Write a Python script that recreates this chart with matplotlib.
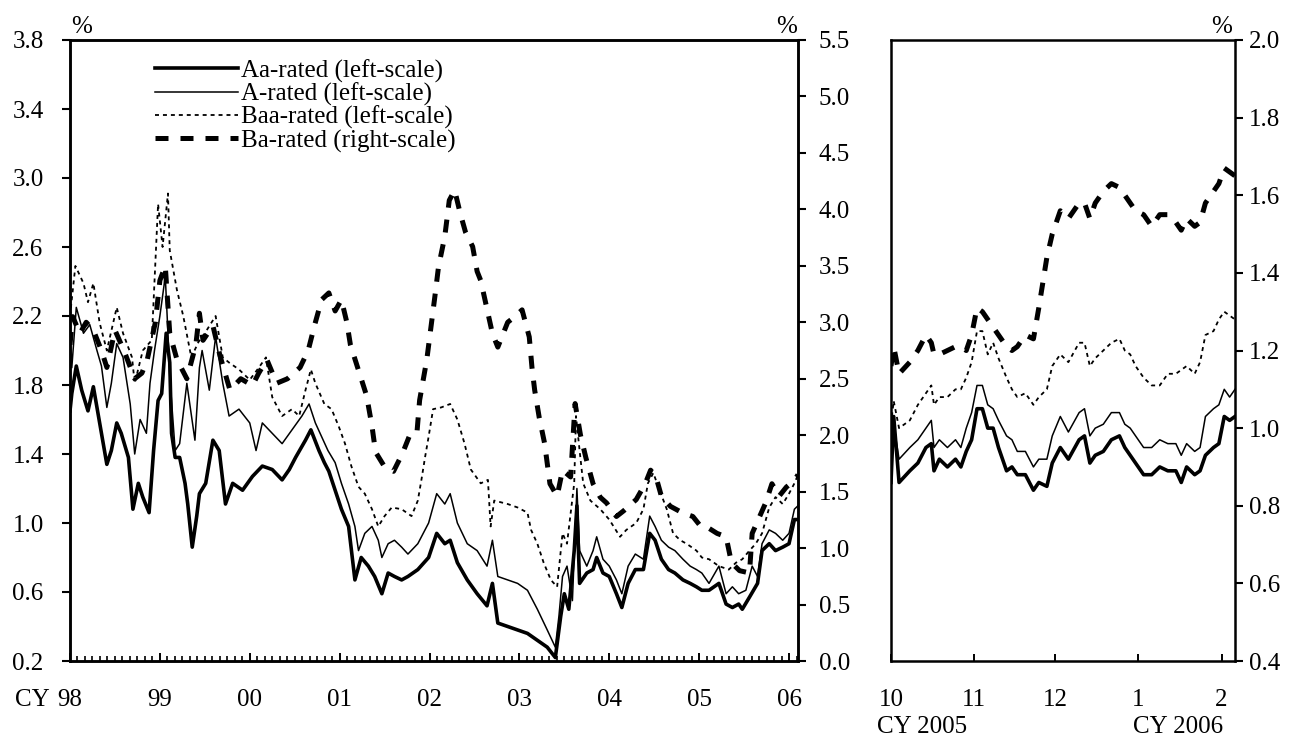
import matplotlib
matplotlib.use('Agg')
import matplotlib.pyplot as plt
from matplotlib.ticker import MultipleLocator, FormatStrFormatter

plt.rcParams['font.family'] = ['Liberation Serif', 'DejaVu Serif']
plt.rcParams['font.size'] = 18

# ---- long view: CY1998 - Feb 2006, x in decimal years ----
aa_t = [1998.00, 1998.02, 1998.07, 1998.13, 1998.20, 1998.26, 1998.31, 1998.37, 1998.41, 1998.46,
        1998.52, 1998.57, 1998.65, 1998.70, 1998.76, 1998.81, 1998.88, 1998.93, 1998.98, 1999.02,
        1999.07, 1999.11, 1999.13, 1999.17, 1999.22, 1999.28, 1999.31, 1999.36, 1999.41, 1999.44,
        1999.51, 1999.59, 1999.66, 1999.73, 1999.81, 1999.92, 2000.03, 2000.14, 2000.25, 2000.36,
        2000.44, 2000.51, 2000.62, 2000.68, 2000.77, 2000.83, 2000.88, 2000.95, 2001.02, 2001.10,
        2001.17, 2001.24, 2001.32, 2001.39, 2001.47, 2001.54, 2001.61, 2001.69, 2001.76, 2001.87,
        2001.99, 2002.08, 2002.17, 2002.23, 2002.31, 2002.42, 2002.53, 2002.64, 2002.70, 2002.76,
        2002.87, 2002.98, 2003.09, 2003.20, 2003.31, 2003.40, 2003.46, 2003.50, 2003.55, 2003.61,
        2003.64, 2003.67, 2003.75, 2003.82, 2003.86, 2003.93, 2004.00, 2004.08, 2004.14, 2004.21,
        2004.29, 2004.38, 2004.45, 2004.51, 2004.58, 2004.66, 2004.73, 2004.82, 2004.90, 2004.97,
        2005.03, 2005.11, 2005.22, 2005.30, 2005.37, 2005.44, 2005.48, 2005.56, 2005.65, 2005.70,
        2005.78, 2005.85, 2005.93, 2006.00, 2006.06, 2006.10]
aa_v = [1.65, 1.75, 1.91, 1.77, 1.65, 1.79, 1.64, 1.46, 1.34, 1.42,
        1.58, 1.52, 1.38, 1.08, 1.23, 1.15, 1.06, 1.42, 1.71, 1.75,
        2.10, 1.93, 1.52, 1.38, 1.38, 1.23, 1.11, 0.86, 1.04, 1.17,
        1.23, 1.48, 1.42, 1.11, 1.23, 1.19, 1.27, 1.33, 1.31, 1.25,
        1.31, 1.38, 1.48, 1.54, 1.42, 1.35, 1.30, 1.19, 1.08, 0.98,
        0.67, 0.80, 0.75, 0.69, 0.59, 0.71, 0.69, 0.67, 0.69, 0.73,
        0.80, 0.94, 0.88, 0.90, 0.77, 0.67, 0.59, 0.52, 0.65, 0.42,
        0.40, 0.38, 0.36, 0.32, 0.28, 0.22, 0.46, 0.59, 0.50, 0.84,
        1.10, 0.65, 0.71, 0.73, 0.80, 0.71, 0.69, 0.59, 0.51, 0.65,
        0.73, 0.73, 0.94, 0.90, 0.79, 0.73, 0.71, 0.67, 0.65, 0.63,
        0.61, 0.61, 0.65, 0.53, 0.51, 0.53, 0.50, 0.57, 0.65, 0.84,
        0.88, 0.84, 0.86, 0.88, 1.02, 1.02]

a_t = [1998.00, 1998.02, 1998.07, 1998.15, 1998.22, 1998.30, 1998.35, 1998.41, 1998.46, 1998.52,
       1998.59, 1998.67, 1998.72, 1998.78, 1998.85, 1998.89, 1998.94, 1999.00, 1999.06, 1999.09,
       1999.11, 1999.17, 1999.22, 1999.30, 1999.39, 1999.44, 1999.47, 1999.55, 1999.62, 1999.70,
       1999.77, 1999.88, 2000.00, 2000.07, 2000.14, 2000.25, 2000.36, 2000.47, 2000.58, 2000.66,
       2000.73, 2000.80, 2000.87, 2000.95, 2001.02, 2001.10, 2001.17, 2001.21, 2001.28, 2001.36,
       2001.43, 2001.47, 2001.54, 2001.61, 2001.69, 2001.76, 2001.87, 2001.99, 2002.08, 2002.17,
       2002.23, 2002.31, 2002.42, 2002.53, 2002.64, 2002.70, 2002.76, 2002.87, 2002.98, 2003.09,
       2003.20, 2003.31, 2003.40, 2003.44, 2003.48, 2003.53, 2003.59, 2003.64, 2003.67, 2003.75,
       2003.82, 2003.86, 2003.93, 2004.00, 2004.08, 2004.14, 2004.21, 2004.29, 2004.38, 2004.45,
       2004.51, 2004.58, 2004.66, 2004.73, 2004.82, 2004.90, 2004.97, 2005.03, 2005.11, 2005.22,
       2005.30, 2005.37, 2005.44, 2005.52, 2005.59, 2005.65, 2005.70, 2005.78, 2005.85, 2005.93,
       2006.00, 2006.06, 2006.10]
a_v = [2.08, 1.90, 2.25, 2.10, 2.15, 2.00, 1.91, 1.67, 1.81, 2.04,
       1.96, 1.69, 1.40, 1.60, 1.52, 1.81, 2.00, 2.20, 2.43, 2.10,
       1.85, 1.42, 1.46, 1.81, 1.48, 1.90, 2.00, 1.77, 2.08, 1.81,
       1.62, 1.66, 1.58, 1.42, 1.58, 1.52, 1.46, 1.54, 1.62, 1.69,
       1.58, 1.50, 1.42, 1.35, 1.23, 1.11, 0.98, 0.84, 0.94, 0.98,
       0.90, 0.80, 0.88, 0.90, 0.86, 0.82, 0.88, 1.00, 1.17, 1.11,
       1.17, 1.00, 0.88, 0.84, 0.75, 0.90, 0.69, 0.67, 0.65, 0.61,
       0.50, 0.38, 0.28, 0.46, 0.69, 0.75, 0.55, 1.20, 0.84, 0.75,
       0.84, 0.92, 0.79, 0.75, 0.67, 0.59, 0.75, 0.82, 0.79, 1.04,
       0.98, 0.90, 0.86, 0.84, 0.79, 0.75, 0.73, 0.71, 0.65, 0.75,
       0.59, 0.63, 0.59, 0.61, 0.75, 0.69, 0.88, 0.96, 0.94, 0.90,
       0.94, 1.08, 1.10]

baa_t = [1998.00, 1998.06, 1998.15, 1998.20, 1998.26, 1998.33, 1998.41, 1998.52, 1998.59, 1998.69,
         1998.72, 1998.81, 1998.91, 1998.98, 1999.03, 1999.09, 1999.11, 1999.19, 1999.26, 1999.35,
         1999.43, 1999.50, 1999.62, 1999.70, 1999.77, 1999.88, 2000.00, 2000.10, 2000.18, 2000.25,
         2000.36, 2000.47, 2000.55, 2000.62, 2000.68, 2000.73, 2000.83, 2000.91, 2000.99, 2001.06,
         2001.13, 2001.21, 2001.28, 2001.36, 2001.43, 2001.50, 2001.58, 2001.69, 2001.80, 2001.87,
         2001.91, 2001.95, 2001.99, 2002.04, 2002.13, 2002.23, 2002.31, 2002.39, 2002.46, 2002.57,
         2002.65, 2002.68, 2002.72, 2002.87, 2002.98, 2003.09, 2003.13, 2003.20, 2003.27, 2003.35,
         2003.42, 2003.48, 2003.53, 2003.61, 2003.63, 2003.67, 2003.71, 2003.79, 2003.90, 2004.00,
         2004.12, 2004.19, 2004.30, 2004.38, 2004.43, 2004.49, 2004.56, 2004.64, 2004.71, 2004.79,
         2004.86, 2004.97, 2005.03, 2005.11, 2005.22, 2005.33, 2005.41, 2005.48, 2005.56, 2005.63,
         2005.70, 2005.78, 2005.85, 2005.93, 2006.00, 2006.06, 2006.10]
baa_v = [2.20, 2.49, 2.39, 2.28, 2.39, 2.16, 2.00, 2.25, 2.10, 1.96,
         1.81, 2.00, 2.06, 2.85, 2.60, 2.91, 2.58, 2.35, 2.20, 1.96,
         2.05, 2.10, 2.20, 1.96, 1.93, 1.89, 1.83, 1.90, 1.96, 1.73,
         1.62, 1.66, 1.62, 1.77, 1.89, 1.81, 1.69, 1.66, 1.56, 1.46,
         1.33, 1.21, 1.17, 1.08, 0.98, 1.04, 1.09, 1.08, 1.04, 1.13,
         1.25, 1.38, 1.50, 1.66, 1.67, 1.69, 1.60, 1.46, 1.31, 1.23,
         1.25, 0.98, 1.13, 1.11, 1.09, 1.06, 0.96, 0.88, 0.77, 0.67,
         0.63, 0.94, 0.88, 1.23, 1.62, 1.42, 1.23, 1.13, 1.08, 1.02,
         0.92, 0.96, 1.00, 1.08, 1.23, 1.29, 1.19, 1.08, 0.94, 0.90,
         0.88, 0.84, 0.80, 0.79, 0.75, 0.73, 0.77, 0.79, 0.84, 0.88,
         0.94, 1.09, 1.15, 1.11, 1.17, 1.23, 1.28]

ba_t = [1998.00, 1998.03, 1998.11, 1998.18, 1998.26, 1998.35, 1998.41, 1998.50, 1998.60, 1998.72,
        1998.80, 1998.86, 1998.95, 1999.00, 1999.06, 1999.11, 1999.19, 1999.30, 1999.40, 1999.44,
        1999.48, 1999.59, 1999.67, 1999.78, 1999.90, 2000.03, 2000.10, 2000.19, 2000.30, 2000.42,
        2000.56, 2000.65, 2000.72, 2000.80, 2000.88, 2000.95, 2001.02, 2001.08, 2001.12, 2001.20,
        2001.30, 2001.36, 2001.40, 2001.50, 2001.60, 2001.70, 2001.78, 2001.86, 2001.89, 2001.97,
        2002.06, 2002.10, 2002.17, 2002.22, 2002.28, 2002.34, 2002.40, 2002.48, 2002.53, 2002.57,
        2002.70, 2002.76, 2002.87, 2002.95, 2003.03, 2003.11, 2003.14, 2003.17, 2003.22, 2003.28,
        2003.31, 2003.34, 2003.42, 2003.48, 2003.57, 2003.62, 2003.68, 2003.74, 2003.82, 2003.90,
        2003.97, 2004.08, 2004.16, 2004.30, 2004.40, 2004.46, 2004.52, 2004.58, 2004.68, 2004.82,
        2004.93, 2005.02, 2005.08, 2005.20, 2005.30, 2005.36, 2005.45, 2005.56, 2005.59, 2005.74,
        2005.81, 2005.89, 2005.97, 2006.06, 2006.10]
ba_v = [2.80, 3.05, 2.90, 3.00, 2.93, 2.75, 2.60, 2.93, 2.75, 2.50,
        2.55, 2.67, 3.00, 3.37, 3.50, 2.90, 2.67, 2.50, 2.80, 3.08,
        2.84, 2.97, 2.70, 2.40, 2.50, 2.44, 2.55, 2.67, 2.46, 2.50,
        2.60, 2.75, 2.97, 3.20, 3.26, 3.10, 3.20, 3.00, 2.80, 2.60,
        2.35, 2.08, 1.85, 1.72, 1.68, 1.84, 2.00, 2.02, 2.31, 2.67,
        3.23, 3.49, 3.76, 4.08, 4.17, 3.97, 3.80, 3.67, 3.45, 3.37,
        2.90, 2.78, 3.00, 3.05, 3.11, 2.87, 2.60, 2.40, 2.16, 1.93,
        1.75, 1.57, 1.46, 1.69, 1.63, 2.28, 2.00, 1.80, 1.57, 1.45,
        1.40, 1.28, 1.33, 1.43, 1.57, 1.69, 1.63, 1.46, 1.37, 1.31,
        1.28, 1.19, 1.19, 1.13, 1.10, 0.87, 0.80, 0.78, 1.13, 1.40,
        1.57, 1.46, 1.54, 1.60, 1.65]

# ---- close-up: Oct 2005 - Feb 2006, x in days from 1 Oct 2005 ----
day = [0, 1, 3, 7, 10, 13, 15, 16, 18, 21, 24, 26, 28, 30, 32, 34, 36, 38, 40, 43,
       45, 47, 50, 53, 55, 58, 60, 63, 66, 70, 72, 74, 76, 79, 82, 85, 87, 89, 91, 94,
       97, 100, 103, 106, 108, 110, 113, 115, 117, 120, 122, 124, 126, 128]
z_aa = [0.86, 1.03, 0.86, 0.89, 0.91, 0.95, 0.96, 0.89, 0.92, 0.90, 0.92, 0.90, 0.94, 0.97, 1.05, 1.05, 1.00, 1.00, 0.95, 0.89,
        0.90, 0.88, 0.88, 0.84, 0.86, 0.85, 0.91, 0.95, 0.92, 0.97, 0.98, 0.91, 0.93, 0.94, 0.97, 0.98, 0.95, 0.93, 0.91, 0.88,
        0.88, 0.90, 0.89, 0.89, 0.86, 0.90, 0.88, 0.89, 0.93, 0.95, 0.96, 1.03, 1.02, 1.03]
z_a = [0.95, 1.01, 0.92, 0.95, 0.97, 1.00, 1.02, 0.95, 0.97, 0.95, 0.97, 0.95, 1.00, 1.04, 1.11, 1.11, 1.06, 1.05, 1.02, 0.98,
       0.97, 0.94, 0.94, 0.90, 0.92, 0.92, 0.98, 1.03, 0.99, 1.04, 1.05, 0.98, 1.00, 1.01, 1.04, 1.04, 1.01, 1.00, 0.98, 0.95,
       0.95, 0.97, 0.96, 0.96, 0.93, 0.96, 0.94, 0.95, 1.03, 1.05, 1.06, 1.10, 1.08, 1.10]
z_baa = [1.01, 1.07, 1.00, 1.02, 1.06, 1.09, 1.11, 1.06, 1.08, 1.08, 1.10, 1.10, 1.13, 1.17, 1.25, 1.25, 1.19, 1.22, 1.18, 1.13,
         1.10, 1.08, 1.09, 1.06, 1.08, 1.10, 1.16, 1.19, 1.17, 1.22, 1.22, 1.16, 1.18, 1.20, 1.22, 1.23, 1.20, 1.19, 1.16, 1.13,
         1.11, 1.11, 1.14, 1.14, 1.15, 1.16, 1.14, 1.17, 1.24, 1.25, 1.28, 1.30, 1.29, 1.28]
z_ba = [1.16, 1.21, 1.14, 1.17, 1.20, 1.24, 1.22, 1.19, 1.19, 1.20, 1.21, 1.21, 1.20, 1.24, 1.31, 1.30, 1.28, 1.26, 1.24, 1.21,
        1.20, 1.21, 1.24, 1.23, 1.31, 1.44, 1.50, 1.56, 1.54, 1.58, 1.58, 1.54, 1.58, 1.61, 1.63, 1.62, 1.60, 1.58, 1.56, 1.55,
        1.52, 1.55, 1.55, 1.53, 1.51, 1.54, 1.52, 1.53, 1.58, 1.61, 1.63, 1.67, 1.66, 1.65]

years = list(range(1998, 2007))
year_labels = ['98', '99', '00', '01', '02', '03', '04', '05', '06']
left_ticks = [0.2, 0.6, 1.0, 1.4, 1.8, 2.2, 2.6, 3.0, 3.4, 3.8]
month_days = [0, 31, 61, 92, 123]
month_labels = ['10', '11', '12', '1', '2']

W, H = 1289, 742
fig = plt.figure(figsize=(W / 100, H / 100), dpi=100)
ax = fig.add_axes([70 / W, 1 - 661 / H, 728 / W, 621 / H])
ax2 = ax.twinx()
axr = fig.add_axes([891 / W, 1 - 661 / H, 344 / W, 621 / H])

l1, = ax.plot(aa_t, aa_v, color='black', lw=2.6, label='Aa-rated (left-scale)')
l2, = ax.plot(a_t, a_v, color='black', lw=1.1, label='A-rated (left-scale)')
l3, = ax.plot(baa_t, baa_v, color='black', lw=1.3, dashes=(2.2, 2.2), label='Baa-rated (left-scale)')
l4, = ax2.plot(ba_t, ba_v, color='black', lw=3.6, dashes=(2.6, 2.4), label='Ba-rated (right-scale)')

axr.plot(day, z_aa, color='black', lw=2.6)
axr.plot(day, z_a, color='black', lw=1.1)
axr.plot(day, z_baa, color='black', lw=1.3, dashes=(2.2, 2.2))
axr.plot(day, z_ba, color='black', lw=3.6, dashes=(2.6, 2.4))

# left panel axes
ax.set_xlim(1998, 2006.1)
ax.set_ylim(0.2, 3.8)
ax.set_yticks(left_ticks)
ax.yaxis.set_major_formatter(FormatStrFormatter('%.1f'))
ax.set_xticks(years)
ax.set_xticklabels(year_labels)
ax.xaxis.set_minor_locator(MultipleLocator(1 / 12))
ax.tick_params(axis='y', direction='out', length=6, width=1.5, pad=13)
ax.tick_params(axis='x', which='major', direction='in', length=6, width=1.4, pad=20)
ax.tick_params(axis='x', which='minor', direction='in', length=3.6, width=1.2)

ax2.set_ylim(0, 5.5)
ax2.yaxis.set_major_locator(MultipleLocator(0.5))
ax2.yaxis.set_major_formatter(FormatStrFormatter('%.1f'))
ax2.tick_params(axis='y', direction='out', length=6, width=1.5, pad=9)

# right panel axes
axr.set_xlim(0, 128)
axr.set_ylim(0.4, 2.0)
axr.set_xticks(month_days)
axr.set_xticklabels(month_labels)
axr.yaxis.tick_right()
axr.yaxis.set_major_locator(MultipleLocator(0.2))
axr.yaxis.set_major_formatter(FormatStrFormatter('%.1f'))
axr.tick_params(axis='y', direction='out', length=6, width=1.5, pad=4)
axr.tick_params(axis='x', direction='in', length=5, width=1.4, pad=20)

for a in (ax, ax2, axr):
    for s in a.spines.values():
        s.set_linewidth(1.8)

ax2.legend([l1, l2, l3, l4], [l.get_label() for l in (l1, l2, l3, l4)],
           loc='upper left', bbox_to_anchor=(0.117, 0.969), frameon=False,
           borderpad=0, borderaxespad=0, labelspacing=0,
           handlelength=3.3, handletextpad=0.15, fontsize=18)

fig.text(82 / W, 1 - 27 / H, '%', ha='center', va='center')
fig.text(787 / W, 1 - 27 / H, '%', ha='center', va='center')
fig.text(1222 / W, 1 - 27 / H, '%', ha='center', va='center')
fig.text(32 / W, 1 - 700 / H, 'CY', ha='center', va='center')
fig.text(922 / W, 1 - 727 / H, 'CY 2005', ha='center', va='center')
fig.text(1178 / W, 1 - 727 / H, 'CY 2006', ha='center', va='center')

fig.savefig('out.png', dpi=100)
